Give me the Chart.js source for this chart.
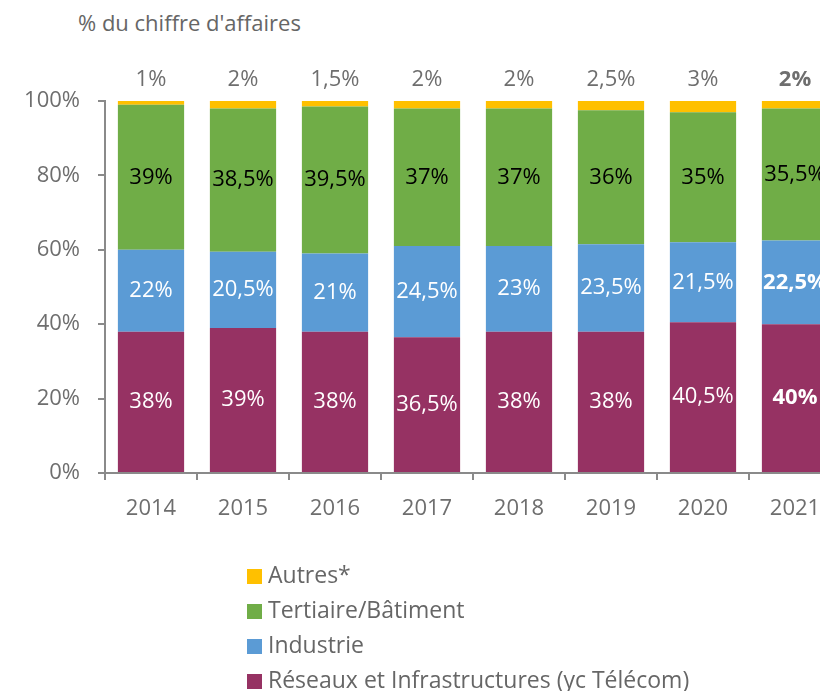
<!DOCTYPE html>
<html>
<head>
<meta charset="utf-8">
<script src="https://cdn.jsdelivr.net/npm/chart.js@4/dist/chart.umd.min.js"></script>
<style>
  body { margin: 0; background: #fff; overflow: hidden; width: 820px; height: 691px; position: relative; font-family: 'Open Sans', sans-serif; }
  #wrap { position: absolute; left: 0; top: 0; width: 880px; height: 691px; }
  #title { position: absolute; left: 78px; top: 7px; font-size: 22px; color: #666; }
  #legend { position: absolute; left: 247px; top: 558px; font-size: 23px; color: #666; }
  #legend div { height: 35px; line-height: 32px; }
  #legend span.sw { display: inline-block; width: 15px; height: 15px; margin-right: 6px; vertical-align: -1px; }
</style>
</head>
<body>
<div id="title">% du chiffre d'affaires</div>
<div id="wrap"><canvas id="barChart"></canvas></div>
<div id="legend"></div>
<script>
var years = ['2014', '2015', '2016', '2017', '2018', '2019', '2020', '2021'];
var reseaux = [38, 39, 38, 36.5, 38, 38, 40.5, 40];
var industrie = [22, 20.5, 21, 24.5, 23, 23.5, 21.5, 22.5];
var tertiaire = [39, 38.5, 39.5, 37, 37, 36, 35, 35.5];
var autres = [1, 2, 1.5, 2, 2, 2.5, 3, 2];
var yTicks = ['0%', '20%', '40%', '60%', '80%', '100%'];

var gray = '#6e6e6e';
var axisGray = '#8a8a8a';
var fontName = 'Open Sans';

var data1 = {
    labels: years,
    datasets: [
        { label: 'Réseaux et Infrastructures (yc Télécom)', data: reseaux, backgroundColor: '#963263', labelColor: '#fff' },
        { label: 'Industrie', data: industrie, backgroundColor: '#5b9bd5', labelColor: '#fff' },
        { label: 'Tertiaire/Bâtiment', data: tertiaire, backgroundColor: '#70ad47', labelColor: '#000' },
        { label: 'Autres*', data: autres, backgroundColor: '#ffc000', labelColor: gray }
    ]
};

// draws the value labels on / above each segment
var valueLabels = {
    id: 'valueLabels',
    afterDatasetsDraw: function (chart) {
        var c = chart.ctx;
        c.save();
        c.textAlign = 'center';
        c.textBaseline = 'middle';
        chart.data.datasets.forEach(function (ds, i) {
            var meta = chart.getDatasetMeta(i);
            meta.data.forEach(function (bar, j) {
                var txt = String(ds.data[j]).replace('.', ',') + '%';
                var bold = (j == years.length - 1 && i != 2);
                c.font = (bold ? 'bold ' : '') + '22px "' + fontName + '"';
                c.fillStyle = ds.labelColor;
                var y = (bar.y + bar.base) / 2;
                if (i == 3) y = bar.y - 21;
                c.fillText(txt, bar.x, y);
            });
        });
        c.restore();
    }
};

var ctx = document.getElementById('barChart').getContext('2d');
var myChart = new Chart(ctx, {
    type: 'bar',
    data: data1,
    plugins: [valueLabels],
    options: {
        responsive: true,
        maintainAspectRatio: false,
        animation: false,
        layout: {
            padding: { left: 0, right: 39, top: 101, bottom: 158 }
        },
        datasets: {
            bar: { categoryPercentage: 1, barPercentage: 0.72 }
        },
        scales: {
            x: {
                stacked: true,
                grid: { display: true, drawOnChartArea: false, drawTicks: true, tickLength: 7, color: axisGray, lineWidth: 2 },
                border: { color: axisGray, width: 2 },
                ticks: { color: gray, font: { family: fontName, size: 22 }, padding: 16 },
                afterFit: function (s) { s.height = 60; }
            },
            y: {
                stacked: true,
                min: 0,
                max: 100,
                grid: { display: true, drawOnChartArea: false, drawTicks: true, tickLength: 7, color: axisGray, lineWidth: 2 },
                border: { color: axisGray, width: 2 },
                ticks: {
                    stepSize: 20,
                    color: gray,
                    padding: 18,
                    font: { family: fontName, size: 22 },
                    callback: function (v, i) { return yTicks[i]; }
                },
                afterFit: function (s) { s.width = 105; }
            }
        },
        plugins: {
            legend: { display: false },
            tooltip: { enabled: false }
        }
    }
});

// legend, same order as the picture (top = Autres)
var lg = document.getElementById('legend');
data1.datasets.slice().reverse().forEach(function (ds) {
    var d = document.createElement('div');
    d.innerHTML = '<span class="sw" style="background:' + ds.backgroundColor + '"></span>' + ds.label;
    lg.appendChild(d);
});
</script>
</body>
</html>
